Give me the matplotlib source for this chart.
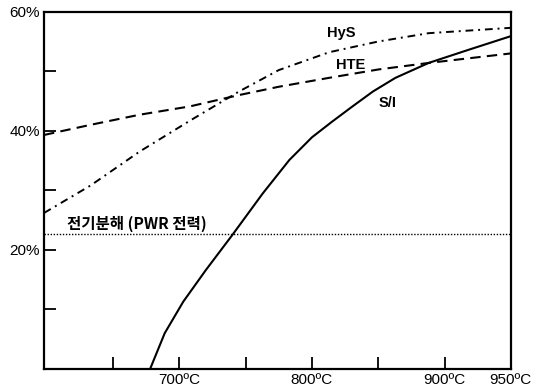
import matplotlib
matplotlib.use("Agg")
import matplotlib.pyplot as plt

# 온도(°C)와 효율(%) - 그림에서 읽은 값
si_t = [678, 689, 703, 720, 740, 763, 783, 800, 815, 830, 846, 863, 888, 918, 950]
si_v = [0, 6.0, 11.3, 16.6, 22.5, 29.5, 35.1, 38.9, 41.5, 44.0, 46.6, 48.9, 51.4, 53.6, 55.9]

hte_t = [598, 633, 670, 708, 745, 775, 813, 850, 888, 950]
hte_v = [39.3, 41.0, 42.7, 44.1, 46.0, 47.4, 48.9, 50.3, 51.4, 53.0]

hys_t = [598, 633, 670, 708, 745, 775, 813, 850, 888, 950]
hys_v = [26.2, 30.8, 36.5, 41.7, 46.6, 50.2, 53.2, 55.0, 56.4, 57.3]

pwr_level = 22.6

x_ticks = [650, 700, 750, 800, 850, 900, 950]
x_labels = ["", "700ºC", "", "800ºC", "", "900ºC", "950ºC"]
y_ticks = [10, 20, 30, 40, 50, 60]
y_labels = ["", "20%", "", "40%", "", "60%"]

plt.rcParams["font.family"] = ["Liberation Sans", "DejaVu Sans"]

fig = plt.figure(figsize=(5.44, 3.92), dpi=100)
ax = fig.add_axes([0.081, 0.059, 0.858, 0.911])

ax.plot(si_t, si_v, color="black", lw=1.5)
ax.plot(hte_t, hte_v, color="black", lw=1.5, linestyle=(0, (5, 3)))
ax.plot(hys_t, hys_v, color="black", lw=1.4, linestyle=(0, (4, 2.5, 1, 2.5)))
ax.axhline(pwr_level, color="black", lw=1.0, linestyle=(0, (1, 1.2)))

ax.text(822, 56.4, "HyS", fontsize=10.5, fontweight="bold", ha="center", va="center")
ax.text(829, 51.1, "HTE", fontsize=10.5, fontweight="bold", ha="center", va="center")
ax.text(857, 44.7, "S/I", fontsize=10.5, fontweight="bold", ha="center", va="center")
ax.text(615, 24.4, "전기분해 (PWR 전력)", fontsize=11.2, ha="left", va="center",
        family=["Noto Sans CJK KR", "DejaVu Sans"], fontweight="bold")

ax.set_xlim(598, 950)
ax.set_ylim(0, 60)
ax.set_xticks(x_ticks)
ax.set_xticklabels(x_labels, fontsize=11)
ax.set_yticks(y_ticks)
ax.set_yticklabels(y_labels, fontsize=11)
ax.tick_params(direction="in", length=8.5, width=1.3, pad=3)
for s in ax.spines.values():
    s.set_linewidth(1.6)

fig.savefig("out.png", dpi=100)
